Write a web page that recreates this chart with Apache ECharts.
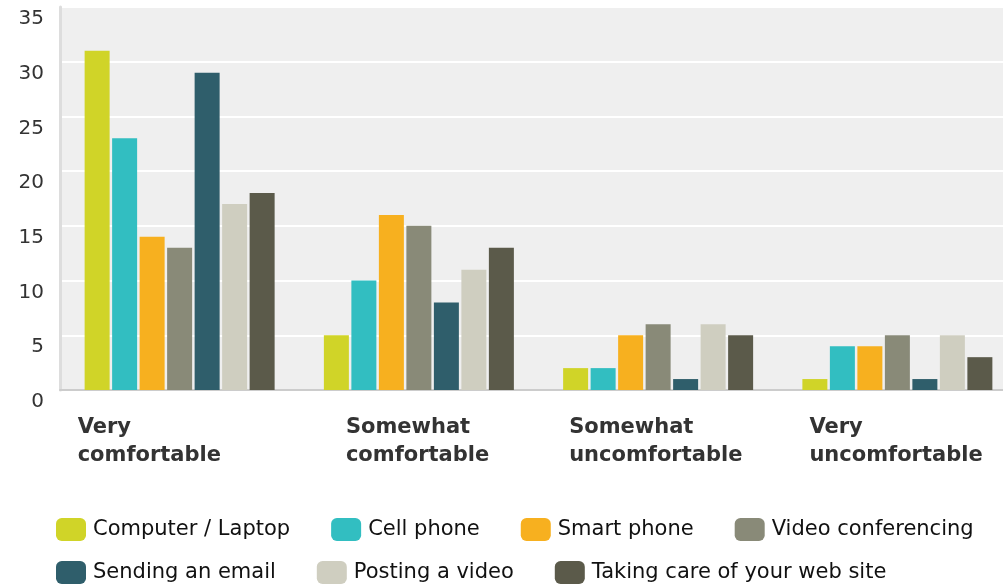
<!DOCTYPE html>
<html><head><meta charset="utf-8">
<script src="https://cdn.jsdelivr.net/npm/echarts@6/dist/echarts.min.js"></script>
<style>html,body{margin:0;padding:0;background:#fff}#c{width:1003px;height:588px}</style>
</head><body><div id="c"></div>
<script>
var categories = ['Very\ncomfortable', 'Somewhat\ncomfortable', 'Somewhat\nuncomfortable', 'Very\nuncomfortable'];
var seriesNames = ['Computer / Laptop', 'Cell phone', 'Smart phone', 'Video conferencing', 'Sending an email', 'Posting a video', 'Taking care of your web site'];
var computerLaptop = [31, 5, 2, 1];
var cellPhone = [23, 10, 2, 4];
var smartPhone = [14, 16, 5, 4];
var videoConferencing = [13, 15, 6, 5];
var sendingEmail = [29, 8, 1, 1];
var postingVideo = [17, 11, 6, 5];
var webSite = [18, 13, 5, 3];
var yTicks = [0, 5, 10, 15, 20, 25, 30, 35];

var values = [computerLaptop, cellPhone, smartPhone, videoConferencing, sendingEmail, postingVideo, webSite];
var colors = ['#d0d428', '#32bec1', '#f7b01f', '#898a78', '#2f5e6b', '#cfcec0', '#5b5a4a'];
var labelWidths = [204, 146, 178, 176];
var rich = {};
labelWidths.forEach(function (w, i) {
  rich['c' + i] = { width: w, align: 'left', fontSize: 21, fontWeight: 'bold', color: '#333', lineHeight: 28, fontFamily: 'DejaVu Sans' };
});

var chart = echarts.init(document.getElementById('c'), null, { renderer: 'canvas' });
var legendBase = {
  orient: 'horizontal', left: 56, padding: 0, itemWidth: 30, itemHeight: 23, itemGap: 41, icon: 'roundRect',
  textStyle: { fontSize: 21, color: '#111', fontFamily: 'DejaVu Sans', padding: [0, 0, 0, 2] }
};
chart.setOption({
  animation: false,
  color: colors,
  grid: { left: 60, top: 7, bottom: 198, right: -14, outerBoundsMode: 'none', containLabel: false, show: true, backgroundColor: '#efefef', borderWidth: 0 },
  legend: [
    Object.assign({}, legendBase, { top: 518, data: seriesNames.slice(0, 4) }),
    Object.assign({}, legendBase, { top: 561, data: seriesNames.slice(4) })
  ],
  xAxis: {
    type: 'category', data: categories,
    axisLine: { show: true, lineStyle: { color: '#cccccc', width: 2 } },
    axisTick: { show: false },
    axisLabel: {
      interval: 0, margin: 24, verticalAlign: 'top', align: 'center',
      formatter: function (v, i) {
        return v.split('\n').map(function (s) { return '{c' + i + '|' + s + '}'; }).join('\n');
      },
      rich: rich
    },
    splitLine: { show: false }
  },
  yAxis: {
    type: 'value', min: yTicks[0], max: yTicks[yTicks.length - 1], interval: 5,
    axisLine: { show: true, lineStyle: { color: '#dddddd', width: 3 } },
    axisTick: { show: false },
    axisLabel: { fontSize: 20, color: '#333', fontFamily: 'DejaVu Sans', margin: 16, verticalAlign: 'top', padding: [2, 0, 0, 0] },
    splitLine: { show: true, lineStyle: { color: '#ffffff', width: 2 } }
  },
  series: seriesNames.map(function (n, i) {
    return { name: n, type: 'bar', data: values[i], barWidth: 25, barGap: '10%' };
  })
});
</script></body></html>
